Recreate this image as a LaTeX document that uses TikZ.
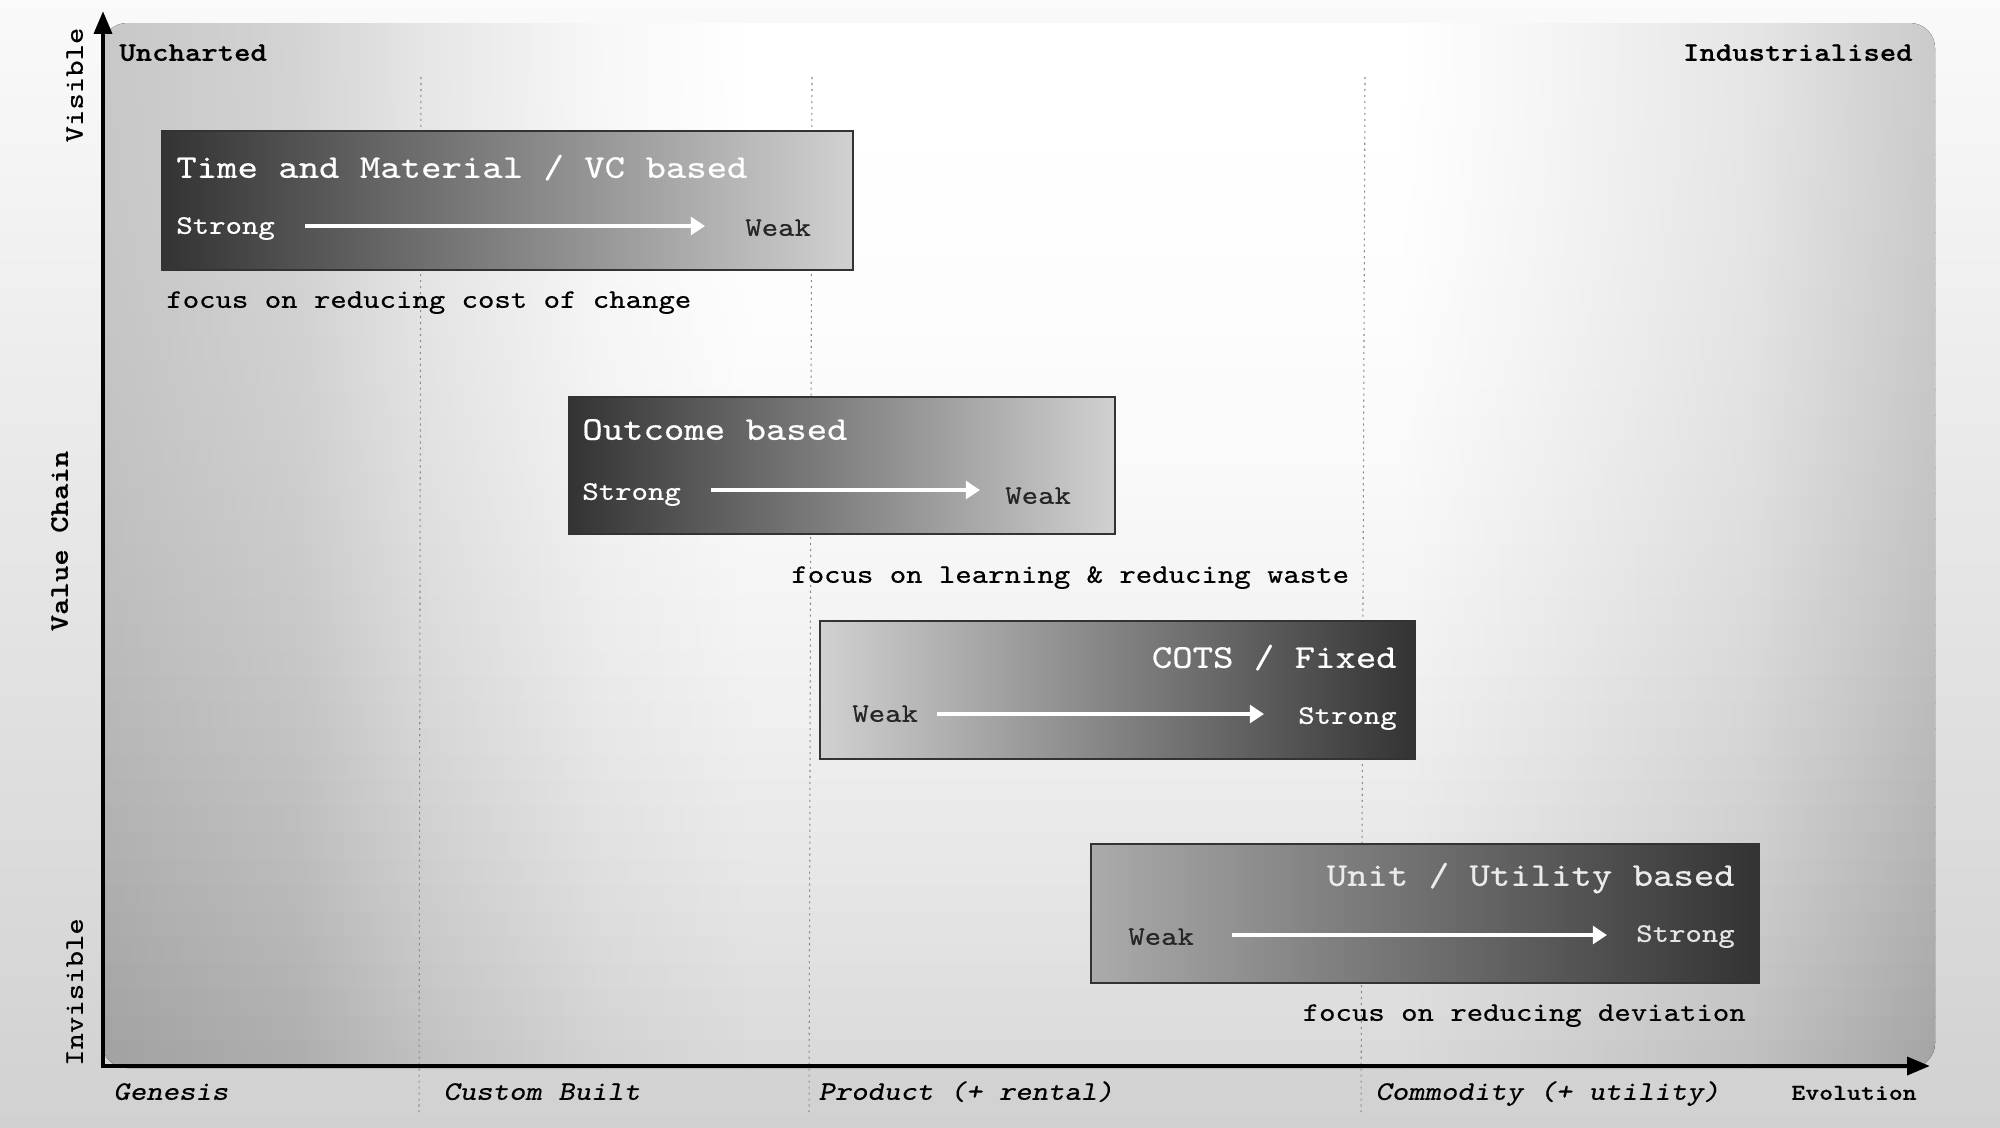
\documentclass[tikz,border=0pt]{standalone}
\usepackage{fontspec}
\setmainfont{lmmono10-regular.otf}[FakeStretch=1.17, FakeBold=0.5, BoldFont=lmmonolt10-bold.otf, ItalicFont=lmmonoslant10-regular.otf]
\usetikzlibrary{arrows.meta}
\begin{document}
\begin{tikzpicture}[x=0.02cm,y=-0.02cm,
  lbl/.style={inner sep=0pt, font=\fontsize{15.2}{18}\selectfont},
  ttl/.style={inner sep=0pt, font=\fontsize{18.9}{22}\selectfont, text=white},
  boxdark/.style={draw=black!80, line width=1.1pt, left color=black!80, right color=black!18, inner sep=0pt},
  boxlight/.style={draw=black!80, line width=1.1pt, left color=black!18, right color=black!80, inner sep=0pt},
  warrow/.style={draw=white, line width=2.2pt, -{Triangle[length=8pt,width=10pt]}},
  axisline/.style={line width=2.6pt, -{Triangle[length=13pt,width=10pt]}},
  dotline/.style={black!45, line width=0.6pt, dash pattern=on 1.2pt off 2.2pt},
]
\useasboundingbox (0,0) rectangle (2000,1127);
% background
\fill[top color=black!2, middle color=black!5, bottom color=black!18] (0,0) rectangle (2000,1127);
% panel
\begin{scope}
\clip[rounded corners=0.5cm] (102,23) rectangle (1935,1068);
\foreach \k in {0,...,39}{
  \pgfmathsetmacro\ya{23+\k*26.125}
  \pgfmathsetmacro\yb{\ya+27}
  \pgfmathsetmacro\dd{15*((\k+0.5)/40)^2.2}
  \foreach \xa/\xb/\ca/\cb in {100/301/22/17, 300/421/17/10, 420/601/10/3, 600/751/3/0, 750/1401/0/0, 1400/1551/0/4, 1550/1751/4/10, 1750/1940/10/21}{
    \pgfmathsetmacro\la{\ca+\dd}
    \pgfmathsetmacro\lb{\cb+\dd}
    \fill[left color=black!\la, right color=black!\lb] (\xa,\ya) rectangle (\xb,\yb);
  }
}
\end{scope}
% dotted stage lines
\coordinate (d1t) at (421,77); \coordinate (d1b) at (419,1112);
\coordinate (d2t) at (812,77); \coordinate (d2b) at (809,1112);
\coordinate (d3t) at (1365,77); \coordinate (d3b) at (1361,1112);
\draw[dotline] (d1t) -- (d1b);
\draw[dotline] (d2t) -- (d2b);
\draw[dotline] (d3t) -- (d3b);
% boxes
\node[boxdark, minimum width=13.82cm, minimum height=2.78cm] (b1) at (507.5,200.5) {};
\node[boxdark, minimum width=10.92cm, minimum height=2.74cm] (b2) at (842,465.5) {};
\node[boxlight, minimum width=11.9cm, minimum height=2.76cm] (b3) at (1117.5,690) {};
\node[boxlight, left color=black!33, minimum width=13.36cm, minimum height=2.78cm] (b4) at (1425,913.5) {};
% box 1
\node[ttl, anchor=mid west] (t1) at (176,174) {Time and Material / VC based};
\node[lbl, anchor=mid west, text=white] (s1) at (176,230) {Strong};
\node[lbl, anchor=mid west, text=black!85] (w1) at (745,232) {Weak};
\coordinate (a1s) at (305,226); \coordinate (a1e) at (705,226);
\draw[warrow] (a1s) -- (a1e);
\node[lbl, anchor=mid west] (c1) at (166,304) {focus on reducing cost of change};
% box 2
\node[ttl, anchor=mid west] (t2) at (582,436) {Outcome based};
\node[lbl, anchor=mid west, text=white] (s2) at (582,496) {Strong};
\node[lbl, anchor=mid west, text=black!85] (w2) at (1005,500) {Weak};
\coordinate (a2s) at (711,490); \coordinate (a2e) at (980,490);
\draw[warrow] (a2s) -- (a2e);
\node[lbl, anchor=mid west] (c2) at (791,579) {focus on learning \& reducing waste};
% box 3
\node[ttl, anchor=mid east] (t3) at (1397,664) {COTS / Fixed};
\node[lbl, anchor=mid west, text=black!85] (w3) at (852,718) {Weak};
\node[lbl, anchor=mid east, text=white] (s3) at (1397,720) {Strong};
\coordinate (a3s) at (937,714); \coordinate (a3e) at (1264,714);
\draw[warrow] (a3s) -- (a3e);
% box 4
\node[ttl, anchor=mid east, text=black!8] (t4) at (1735,882) {Unit / Utility based};
\node[lbl, anchor=mid west, text=black!85] (w4) at (1128,941) {Weak};
\node[lbl, anchor=mid east, text=black!10] (s4) at (1735,938) {Strong};
\coordinate (a4s) at (1232,935); \coordinate (a4e) at (1607,935);
\draw[warrow] (a4s) -- (a4e);
\node[lbl, anchor=mid east] (c4) at (1746,1017) {focus on reducing deviation};
% corner labels
\node[lbl, anchor=mid west, font=\fontsize{15.2}{18}\selectfont\bfseries] (unch) at (119,57) {Uncharted};
\node[lbl, anchor=mid east, font=\fontsize{15.2}{18}\selectfont\bfseries] (ind) at (1913,57) {Industrialised};
% y labels
\node[lbl, rotate=90, anchor=mid] (vis) at (79,85) {Visible};
\node[lbl, rotate=90, anchor=mid, font=\fontsize{15.2}{18}\selectfont\bfseries] (vc) at (64,541) {Value Chain};
\node[lbl, rotate=90, anchor=mid] (invis) at (79,992) {Invisible};
% x labels
\node[lbl, anchor=mid west, font=\fontsize{15.2}{18}\selectfont\itshape] (gen) at (113,1096) {Genesis};
\node[lbl, anchor=mid west, font=\fontsize{15.2}{18}\selectfont\itshape] (cus) at (443,1096) {Custom Built};
\node[lbl, anchor=mid west, font=\fontsize{15.2}{18}\selectfont\itshape] (prod) at (818,1096) {Product (+ rental)};
\node[lbl, anchor=mid west, font=\fontsize{15.2}{18}\selectfont\itshape] (comm) at (1375,1096) {Commodity (+ utility)};
\node[lbl, anchor=mid west, font=\fontsize{12.9}{16}\selectfont\bfseries] (evo) at (1791,1096) {Evolution};
% axes
\coordinate (o) at (103,1066);
\coordinate (ytop) at (103,11);
\coordinate (xend) at (1930,1066);
\draw[axisline] ([yshift=-1.3pt]o) -- (ytop);
\draw[axisline] ([xshift=-1.3pt]o) -- (xend);
\end{tikzpicture}
\end{document}
